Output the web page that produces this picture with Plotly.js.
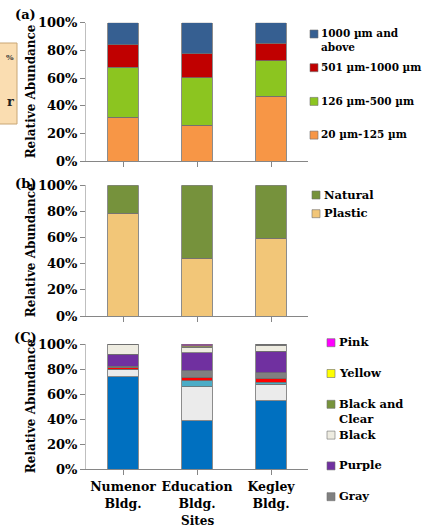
<!DOCTYPE html>
<html>
<head>
<meta charset="utf-8">
<script src="https://cdn.plot.ly/plotly-3.0.1.min.js"></script>
<style>html,body{margin:0;padding:0;background:#fff;}#chart{width:423px;height:531px;}</style>
</head>
<body>
<div id="chart"></div>
<script>
// ---------- DATA ----------
const sites = ['Numenor Bldg.', 'Education Bldg.', 'Kegley Bldg.'];
const siteTickText = ['Numenor<br>Bldg.', 'Education<br>Bldg.', 'Kegley<br>Bldg.'];
const yTickVals = [0, 20, 40, 60, 80, 100];
const yTickText = ['0%', '20%', '40%', '60%', '80%', '100%'];

// (a) size classes, bottom to top
const sizeNames = ['20 µm-125 µm', '126 µm-500 µm', '501 µm-1000 µm', '1000 µm and<br>above'];
const size20to125 = [31.6, 25.8, 47.0];
const size126to500 = [36.1, 34.4, 25.5];
const size501to1000 = [16.2, 17.2, 12.8];
const size1000up = [16.1, 22.6, 14.7];

// (b) type
const typeNames = ['Plastic', 'Natural'];
const plastic = [78.6, 44.1, 59.4];
const natural = [21.4, 55.9, 40.6];

// (c) colours, bottom to top
const colourNames = ['Blue', 'Clear', 'Light Blue', 'Red', 'Gray', 'Purple', 'Black', 'Black and<br>Clear', 'Yellow', 'Pink'];
const cBlue = [73.7, 38.8, 54.7];
const cClear = [6.3, 27.1, 13.1];
const cLightBlue = [0.0, 4.6, 1.6];
const cRed = [1.2, 2.9, 3.2];
const cGray = [1.0, 5.3, 4.3];
const cPurple = [9.8, 14.5, 17.5];
const cBlack = [7.4, 4.4, 4.8];
const cBlackClear = [0.6, 0.4, 0.8];
const cYellow = [0.0, 0.8, 0.0];
const cPink = [0.0, 1.2, 0.0];
const colourLegendShown = ['Pink', 'Yellow', 'Black and<br>Clear', 'Black', 'Purple', 'Gray'];

// ---------- STYLE ----------
const W = 423, H = 531;
const FONT = 'DejaVu Serif';
const px = v => v / W;
const py = v => 1 - v / H;

const sizeColors = ['#F79646', '#8CC520', '#C00000', '#365F91'];
const typeColors = ['#F2C678', '#76923C'];
const colourColors = ['#0070C0', '#EBEBEB', '#4BACC6', '#FF0000', '#808080', '#7030A0', '#EEECE1', '#77933C', '#FFFF00', '#FF00FF'];

const sizeData = [size20to125, size126to500, size501to1000, size1000up];
const typeData = [plastic, natural];
const colourData = [cBlue, cClear, cLightBlue, cRed, cGray, cPurple, cBlack, cBlackClear, cYellow, cPink];

const traces = [];
function addTraces(names, data, colors, xa, ya) {
  names.forEach((n, i) => {
    traces.push({
      type: 'bar', name: n, x: sites, y: data[i], xaxis: xa, yaxis: ya,
      marker: {color: colors[i], line: {color: '#6f6f6f', width: 0.8}},
      showlegend: false, hoverinfo: 'name+y'
    });
  });
}
addTraces(sizeNames, sizeData, sizeColors, 'x', 'y');
addTraces(typeNames, typeData, typeColors, 'x2', 'y2');
addTraces(colourNames, colourData, colourColors, 'x3', 'y3');

const xDomain = [px(86), px(308)];
function xAxis(anchor, showLabels) {
  return {
    domain: xDomain, anchor: anchor, type: 'category',
    categoryorder: 'array', categoryarray: sites,
    tickvals: sites, ticktext: siteTickText,
    showticklabels: showLabels, ticks: 'outside', ticklen: 5, tickcolor: '#868686', tickwidth: 1,
    showline: true, linecolor: '#868686', linewidth: 1, showgrid: false, zeroline: false,
    tickfont: {family: FONT, size: 12.5, color: '#000', weight: 'bold'},
    ticklabelstandoff: 1, fixedrange: true
  };
}
function yAxis(anchor, dom) {
  return {
    domain: dom, anchor: anchor, range: [0, 100],
    tickvals: yTickVals, ticktext: yTickText,
    ticks: 'outside', ticklen: 5, tickcolor: '#868686', tickwidth: 1,
    showline: true, linecolor: '#BFBFBF', linewidth: 1, showgrid: false, zeroline: false,
    tickfont: {family: FONT, size: 13, color: '#000', weight: 'bold'},
    fixedrange: true
  };
}

const domA = [py(161), py(22.7)];
const domB = [py(316), py(185.3)];
const domC = [py(469.3), py(344)];

const annotations = [];
const shapes = [];
function txt(text, x, y, size, opts) {
  annotations.push(Object.assign({
    text: text, x: px(x), y: py(y), xref: 'paper', yref: 'paper', showarrow: false,
    font: {family: FONT, size: size, color: '#000', weight: 'bold'},
    xanchor: 'center', yanchor: 'middle', borderpad: 0
  }, opts || {}));
}
// panel labels
txt('(a)', 25, 14, 13);
txt('(b)', 25, 183, 13);
txt('(C)', 25, 337, 13);
// y titles
[[domA], [domB], [domC]].forEach(([d]) => {
  annotations.push({
    text: 'Relative Abundance', textangle: -90, x: px(30.5), y: (d[0] + d[1]) / 2,
    xref: 'paper', yref: 'paper', showarrow: false, xanchor: 'center', yanchor: 'middle',
    font: {family: FONT, size: 12, color: '#000', weight: 'bold'}
  });
});
// x title
txt('Sites', 197, 521, 12);

// manual legends
function legend(labels, colors, swX, txX, y0, dy, size) {
  labels.forEach((l, i) => {
    const y = y0 + dy * i;
    shapes.push({type: 'rect', xref: 'paper', yref: 'paper',
      x0: px(swX), x1: px(swX + 8), y0: py(y + 4), y1: py(y - 4),
      fillcolor: colors[i], line: {color: '#6f6f6f', width: 0.6}});
    const lh = size * 1.3;
    annotations.push({
      text: l, x: px(txX), y: py(y - lh / 2 - 1), xref: 'paper', yref: 'paper', showarrow: false,
      xanchor: 'left', yanchor: 'top', align: 'left', borderpad: 0,
      font: {family: FONT, size: size, color: '#000', weight: 'bold'}
    });
  });
}
legend(sizeNames.slice().reverse(), sizeColors.slice().reverse(), 310, 320, 34, 33.7, 10.5);
legend(typeNames.slice().reverse(), typeColors.slice().reverse(), 312, 323, 195, 18.7, 11.5);
legend(colourLegendShown, colourLegendShown.map(n => colourColors[colourNames.indexOf(n)]), 327, 338, 342.7, 30.8, 11.5);

// cropped tan text box at left edge
shapes.push({type: 'rect', xref: 'paper', yref: 'paper', x0: px(-5), x1: px(17), y0: py(124), y1: py(43),
  fillcolor: '#FADDB1', line: {color: '#C9A675', width: 1}});
annotations.push({text: '%', x: px(16), y: py(57), xref: 'paper', yref: 'paper', showarrow: false,
  xanchor: 'right', yanchor: 'middle', font: {family: FONT, size: 8, color: '#333'}});
annotations.push({text: 'r', x: px(16), y: py(101), xref: 'paper', yref: 'paper', showarrow: false,
  xanchor: 'right', yanchor: 'middle', font: {family: FONT, size: 13, color: '#222', weight: 'bold'}});

const layout = {
  width: W, height: H, margin: {l: 0, r: 0, t: 0, b: 0},
  paper_bgcolor: '#fff', plot_bgcolor: '#fff',
  font: {family: FONT, color: '#000', weight: 'bold'},
  barmode: 'stack', bargap: 0.59, showlegend: false,
  xaxis: xAxis('y', false), yaxis: yAxis('x', domA),
  xaxis2: xAxis('y2', false), yaxis2: yAxis('x2', domB),
  xaxis3: xAxis('y3', true), yaxis3: yAxis('x3', domC),
  annotations: annotations, shapes: shapes
};

Plotly.newPlot('chart', traces, layout, {displayModeBar: false, staticPlot: true});
</script>
</body>
</html>
